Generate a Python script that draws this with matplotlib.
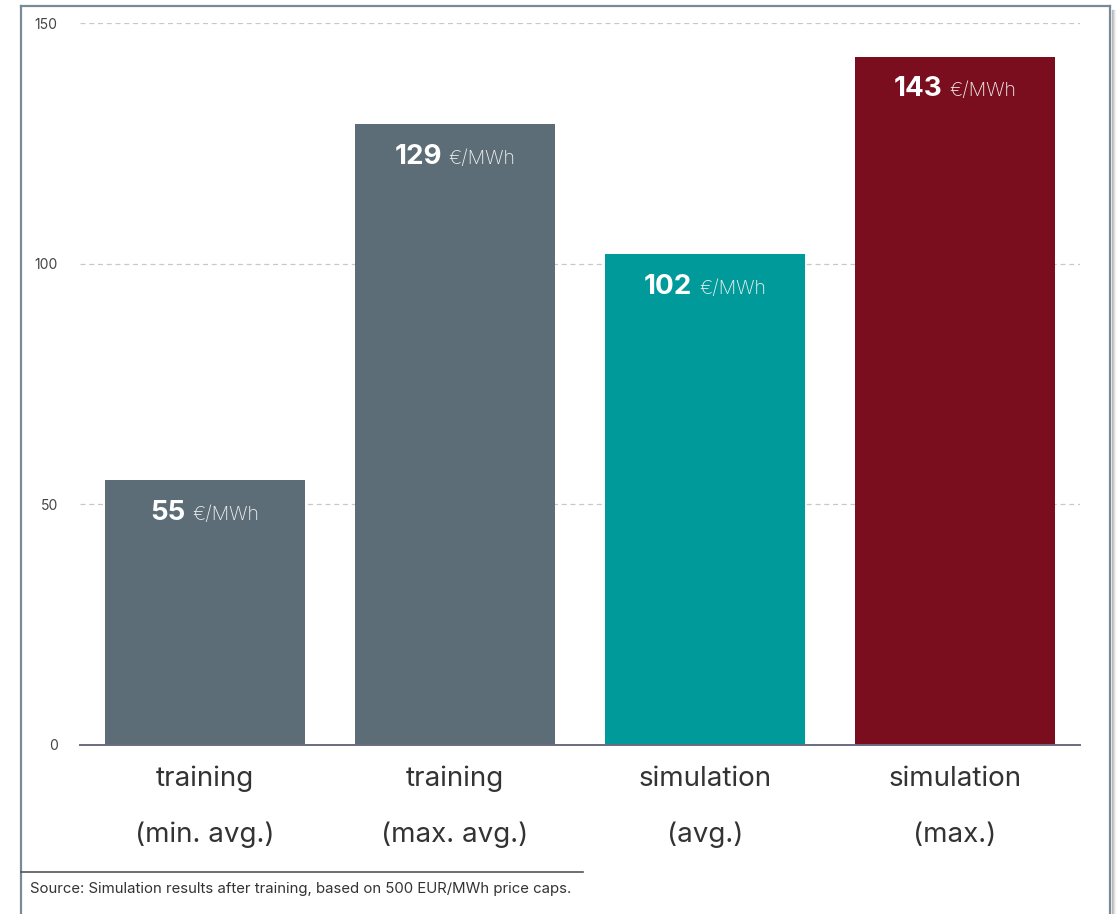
import matplotlib
matplotlib.use('Agg')
import matplotlib.pyplot as plt
from matplotlib.lines import Line2D
from matplotlib.offsetbox import TextArea, HPacker, AnnotationBbox
from matplotlib.transforms import blended_transform_factory, offset_copy

plt.rcParams['font.family'] = ['Inter', 'DejaVu Sans']

# bar data
cat_top = ['training', 'training', 'simulation', 'simulation']
cat_bottom = ['(min. avg.)', '(max. avg.)', '(avg.)', '(max.)']
prices = [55, 129, 102, 143]
colors = ['#5d6d77', '#5d6d77', '#009a9a', '#7a0e1e']
yticks = [0, 50, 100, 150]
unit = '€/MWh'
source = 'Source: Simulation results after training, based on 500 EUR/MWh price caps.'

fig = plt.figure(figsize=(11.2, 9.14), dpi=100)
W, H = 1120, 914
ax = fig.add_axes([80 / W, 1 - 745 / H, 1000 / W, (745 - 23) / H])

x = list(range(len(prices)))
ax.bar(x, prices, width=0.8, color=colors, zorder=2)
ax.set_xlim(-0.5, 3.5)
ax.set_ylim(0, 150)

ax.set_yticks(yticks)
ax.set_yticklabels([str(t) for t in yticks], fontsize=10, color='#444444')
ax.tick_params(axis='y', length=0, pad=16)
ax.set_xticks([])

# two-line category labels, each line on its own baseline
trans = blended_transform_factory(ax.transData, ax.transAxes)
for xi, top, bot in zip(x, cat_top, cat_bottom):
    ax.text(xi, 0, top, transform=offset_copy(trans, fig=fig, y=-34, units='dots'),
            ha='center', va='center', fontsize=20, color='#333333')
    ax.text(xi, 0, bot, transform=offset_copy(trans, fig=fig, y=-90, units='dots'),
            ha='center', va='center', fontsize=20, color='#333333')

ax.grid(axis='y', color='#c8c8c8', linestyle=(0, (4, 3)), linewidth=0.9, zorder=0)
for s in ['top', 'right', 'left']:
    ax.spines[s].set_visible(False)
ax.spines['bottom'].set_color('#6c6a80')
ax.spines['bottom'].set_linewidth(1.4)
ax.spines['bottom'].set_zorder(3)

# value labels inside the bars: bold number + light unit
for xi, v in zip(x, prices):
    num = TextArea(str(v), textprops=dict(fontsize=20, fontweight='bold', color='white'))
    txt = TextArea(unit, textprops=dict(fontsize=14, fontweight='light', color='#f0f0f0'))
    box = HPacker(children=[num, txt], align='baseline', pad=0, sep=5)
    ab = AnnotationBbox(box, (xi, v), xybox=(0, -23.5), xycoords='data',
                        boxcoords='offset points', box_alignment=(0.5, 0.5),
                        frameon=False, zorder=4)
    ax.add_artist(ab)

# frame around the chart, with a soft shadow on the right
def px_line(x0, y0, x1, y1, **kw):
    fig.add_artist(Line2D([x0 / W, x1 / W], [1 - y0 / H, 1 - y1 / H], **kw))

for i, a in enumerate([0.25, 0.15, 0.08, 0.04]):
    px_line(1112 + i, 10, 1112 + i, H, color='black', alpha=a, linewidth=1)
px_line(21, 6, 1110, 6, color='#7a8a94', linewidth=1.6)
px_line(21, 6, 21, H, color='#7a8a94', linewidth=1.6)
px_line(1110, 6, 1110, H, color='#7a8a94', linewidth=1.6)
px_line(21, 872, 583, 872, color='#555555', linewidth=1.2)

fig.text(30 / W, 1 - 889 / H, source, fontsize=10.75, color='#333333', va='center', ha='left')

fig.savefig('out.png', dpi=100)
